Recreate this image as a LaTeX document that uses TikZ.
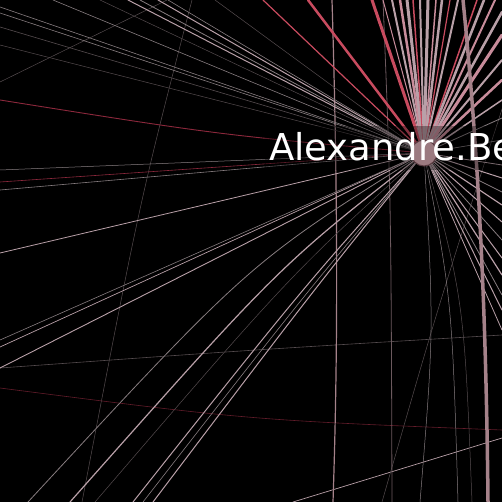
\documentclass[tikz,border=0pt]{standalone}
\usepackage{fontspec}
\newfontfamily\labelfont{DejaVu Sans}
\definecolor{redE}{RGB}{200,75,95}
\definecolor{pinkE}{RGB}{200,140,155}
\definecolor{lpinkE}{RGB}{185,160,168}
\definecolor{grayE}{RGB}{135,125,128}
\definecolor{dimE}{RGB}{85,76,79}
\definecolor{dredE}{RGB}{140,40,60}
\definecolor{vpinkE}{RGB}{165,130,138}
\definecolor{hubfill}{RGB}{155,122,128}
\definecolor{hubline}{RGB}{90,60,66}
\begin{document}
\begin{tikzpicture}[x=1pt,y=-1pt,
  edge/.style={line cap=round},
  hubnode/.style={circle,fill=hubfill,draw=hubline,line width=1pt,minimum size=26pt,inner sep=0pt},
  lbltext/.style={inner sep=0pt,anchor=base west,font=\labelfont\fontsize{37}{40}\selectfont}]
\fill[black] (0,0) rectangle (502,502);
\useasboundingbox (0,0) rectangle (502,502);
\clip (0,0) rectangle (502,502);
\coordinate (H) at (424,153);
% edges not touching the hub
\draw[edge,dimE,line width=0.5pt] (0,82) -- (167,0);
\draw[edge,dimE,line width=0.5pt] (192,0) .. controls (140,200) .. (82,502);
\draw[edge,dimE,line width=0.6pt] (0,368) .. controls (250,350) .. (502,335);
\draw[edge,dredE!70!black,line width=0.6pt] (0,388) .. controls (250,420) .. (502,430);
\draw[edge,lpinkE,line width=0.7pt] (293,502) -- (502,438);
\draw[edge,dimE,line width=0.5pt] (505,100) .. controls (440,300) .. (382,502);
\draw[edge,vpinkE,line width=1.2pt] (332,0) .. controls (338,200) and (338,350) .. (333,502);
\draw[edge,dimE!80!pinkE,line width=0.8pt] (383,0) .. controls (391,200) .. (392,502);
% hub edges: straight
\foreach \ex/\ey/\ec/\ew in {
  263/0/redE/1.2, 308/0/redE/2.5, 372/0/redE/3, 383/0/pinkE/1,
  392/0/lpinkE/2, 400/0/pinkE/2.5, 407/0/lpinkE/3, 413/0/redE/1.5,
  420/0/lpinkE/2, 428/0/lpinkE/3, 436/0/pinkE/1.5, 442/0/lpinkE/2.5,
  450/0/redE/1.2, 458/0/lpinkE/2, 477/0/redE/1.5, 484/0/lpinkE/2.5,
  495/0/pinkE/2, 502/12/lpinkE/2.5, 502/35/pinkE/3, 502/60/lpinkE/2,
  502/80/pinkE/2.5, 502/100/lpinkE/1.5, 502/118/grayE/0.8,
  502/140/grayE/0.6, 502/165/lpinkE/0.8, 502/178/lpinkE/1,
  502/192/grayE/0.8, 502/205/lpinkE/1.2, 502/222/lpinkE/1,
  502/240/grayE/0.8, 502/258/lpinkE/1, 502/275/lpinkE/1.2,
  502/295/grayE/0.8, 502/310/lpinkE/1, 502/330/lpinkE/0.8,
  0/7/grayE/0.6, 0/13/grayE/0.6, 0/27/dimE/0.6, 0/45/dimE/0.5,
  53/0/grayE/0.6, 100/0/dimE/0.5, 128/0/lpinkE/1, 140/0/grayE/0.8,
  158/0/lpinkE/1, 168/0/grayE/0.6, 215/0/dimE/0.5,
  0/170/grayE/0.5, 0/182/dredE/0.6, 0/190/grayE/0.6,
  0/253/lpinkE/0.8, 0/340/grayE/0.6, 0/347/lpinkE/0.7, 0/368/lpinkE/0.9}
  \draw[edge,\ec,line width=\ew pt] (H) -- (\ex,\ey);
% hub edges: curved
\draw[edge,dredE,line width=0.9pt] (H) .. controls (220,135) .. (0,100);
\foreach \ex/\cx/\cy/\ec/\ew in {
  28/250/262/grayE/0.8, 70/280/265/lpinkE/1.2, 95/290/275/dimE/0.5,
  133/305/285/lpinkE/1, 143/308/290/grayE/0.6, 153/312/292/lpinkE/1}
  \draw[edge,\ec,line width=\ew pt] (H) .. controls (\cx,\cy) .. (\ex,502);
\draw[edge,grayE,line width=0.5pt] (H) .. controls (434,330) .. (420,502);
\draw[edge,grayE,line width=0.5pt] (H) .. controls (452,300) .. (458,502);
\draw[edge,dimE,line width=0.5pt] (H) .. controls (464,300) .. (472,502);
% thick edge passing by
\draw[edge,vpinkE,line width=3.5pt] (463,0) .. controls (478,150) and (486,300) .. (488,502);
% label band
\fill[black,opacity=0.35] (265,126) rectangle (502,170);
% hub and label
\node[hubnode] (hub) at (H) {};
\node[lbltext,white] (lbl) at (269,161) {Alexandre.Be};
\end{tikzpicture}
\end{document}
